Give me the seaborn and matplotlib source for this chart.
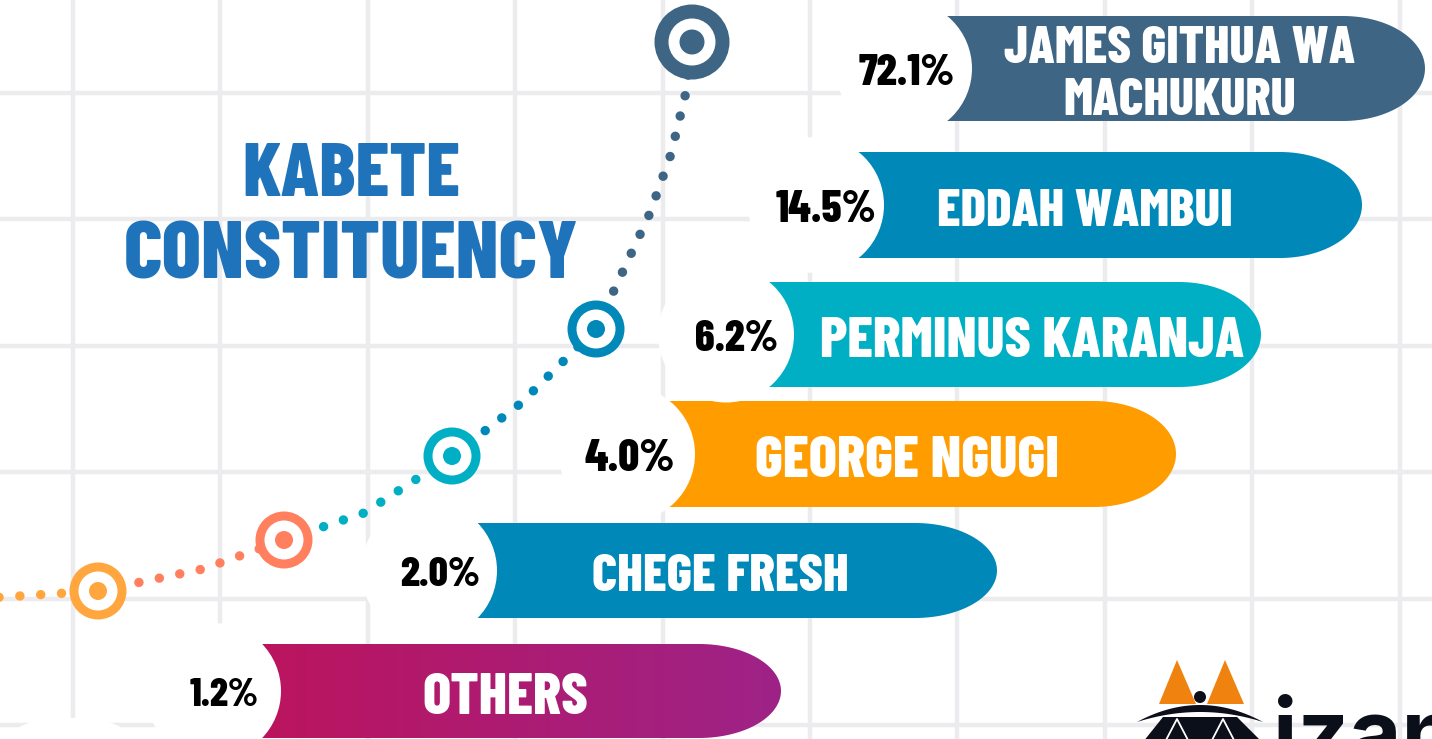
import matplotlib
matplotlib.use("Agg")
import matplotlib.pyplot as plt
import numpy as np
import pandas as pd
import seaborn as sns
from matplotlib import font_manager
from matplotlib.colors import LinearSegmentedColormap
from matplotlib.patches import Circle, Ellipse, Polygon

# --- data ---------------------------------------------------------------
CANDIDATES = ["JAMES GITHUA WA\nMACHUKURU", "EDDAH WAMBUI", "PERMINUS KARANJA",
              "GEORGE NGUGI", "CHEGE FRESH", "OTHERS"]
SHARES = [72.1, 14.5, 6.2, 4.0, 2.0, 1.2]
BAR_COLORS = ["#3E6584", "#0088B8", "#00AFC4", "#FF9C00", "#0088B8", None]
OTHERS_GRADIENT = ["#BC145D", "#9E2387"]
TITLE_LINES = ["KABETE", "CONSTITUENCY"]
MARKER_COLORS = ["#3E6584", "#0088B8", "#00AFC4", "#FF7F5E", "#FFA63F"]
TITLE_COLOR = "#1F73BB"
LOGO_TEXT = "izan"

# --- layout (pixels, y down) ---------------------------------------------
W, H = 1432, 739
GRID_X = [73 + 147.4 * k for k in range(10)]
GRID_Y = [93 + 126.4 * k for k in range(6)]
BAR_TOP = [16, 152, 282, 401, 523, 644]
BAR_BOTTOM = [121, 258, 387, 507, 618, 738]
BAR_BULGE = [972, 884, 794, 695, 497, 281]
BAR_RIGHT = [1425, 1362, 1261, 1176, 997, 781]
LABEL_X = [1180, 1085, 1032, 907, 720, 505]
LABEL_W = [351, 296, 425, 304, 257, 166]
PCT_X = [907, 826, 737, 630, 440, 224]
PCT_W = [96, 100, 83, 90, 80, 69]
CAP_W = 82
HOLE_R = 68

MARKER_X = [692, 596, 452, 284, 98]
MARKER_Y = [42, 329, 456, 540, 591]
MARKER_R = [(37.5, 23.5, 12.5)] + [(28.5, 19.5, 9)] * 4

# dotted connector: (colour index, waypoints)
PATH_SEGMENTS = [
    (4, [(-12, 598), (98, 591)]),
    (3, [(98, 591), (203, 569), (284, 540)]),
    (2, [(284, 540), (364, 513), (452, 456)]),
    (1, [(452, 456), (520, 404), (596, 329)]),
    (0, [(596, 329), (623, 271), (650, 213), (671, 154), (686, 92), (692, 42)]),
]

sns.set_theme(style="white")
available = {f.name for f in font_manager.fontManager.ttflist}
COND = next((f for f in ["Barlow Condensed", "Roboto Condensed", "Liberation Sans Narrow"]
             if f in available), "Roboto")
plt.rcParams["font.family"] = [COND, "DejaVu Sans"]
WEIGHT = 800

fig = plt.figure(figsize=(W / 100, H / 100), dpi=100)
ax = fig.add_axes([0, 0, 1, 1])
renderer = fig.canvas.get_renderer()

# grid
ax.set_xticks(GRID_X)
ax.set_yticks(GRID_Y)
ax.grid(True, color="#ECECEE", lw=3.2)
ax.set_axisbelow(True)
ax.tick_params(length=0, labelbottom=False, labelleft=False)
for sp in ax.spines.values():
    sp.set_visible(False)


def fit_text(x, cy, s, width_px, cap=0.70, **kw):
    t = ax.text(x, cy, s, fontsize=20, ha="center", va="baseline", **kw)
    w = t.get_window_extent(renderer).width
    fs = 20 * width_px / w
    t.set_fontsize(fs)
    t.set_y(cy + cap * fs * 100 / 72 / 2)
    return t


def capsule(left, right, top, bottom):
    cy, hh = (top + bottom) / 2, (bottom - top) / 2
    t = np.linspace(-np.pi / 2, np.pi / 2, 60)
    ex = right - CAP_W + CAP_W * np.cos(t)
    ey = cy + hh * np.sin(t)
    return [(left, bottom), (left, top)] + list(zip(ex, ey))


# bars
for i, name in enumerate(CANDIDATES):
    top, bot = BAR_TOP[i], BAR_BOTTOM[i]
    cy = (top + bot) / 2
    verts = capsule(BAR_BULGE[i] - 40, BAR_RIGHT[i], top, bot)
    if BAR_COLORS[i] is None:
        patch = Polygon(verts, closed=True, fc="none", ec="none", zorder=2)
        ax.add_patch(patch)
        cmap = LinearSegmentedColormap.from_list("others", OTHERS_GRADIENT)
        im = ax.imshow(np.linspace(0, 1, 256).reshape(1, -1), cmap=cmap,
                       extent=[BAR_BULGE[i] - 40, BAR_RIGHT[i], bot, top],
                       aspect="auto", zorder=2)
        im.set_clip_path(patch)
    else:
        ax.add_patch(Polygon(verts, closed=True, fc=BAR_COLORS[i], ec="none", zorder=2))
    ax.add_patch(Circle((BAR_BULGE[i] - HOLE_R, cy), HOLE_R, fc="white", ec="none", zorder=3))

    lines = name.split("\n")
    if len(lines) == 1:
        fit_text(LABEL_X[i], cy + 2, name, LABEL_W[i], color="white",
                 fontweight=WEIGHT, zorder=6)
    else:
        t1 = fit_text(LABEL_X[i], cy - 24, lines[0], LABEL_W[i], color="white",
                      fontweight=WEIGHT, zorder=6)
        ax.text(LABEL_X[i], t1.get_position()[1] + 52, lines[1],
                fontsize=t1.get_fontsize(), ha="center", va="baseline",
                color="white", fontweight=WEIGHT, zorder=6)
    fit_text(PCT_X[i], cy + 1, f"{SHARES[i]:.1f}%", PCT_W[i], color="black",
             fontweight=WEIGHT, zorder=6)

# white bump at bottom-left
ax.add_patch(Ellipse((70, 733), 110, 30, fc="white", ec="none", zorder=3))

# dotted connector
for ci, pts in PATH_SEGMENTS:
    xs, ys = zip(*pts)
    sns.lineplot(x=list(xs), y=list(ys), sort=False, estimator=None, ax=ax,
                 color=MARKER_COLORS[ci], lw=6.8, linestyle=(0, (0.01, 2.2)),
                 dash_capstyle="round", zorder=5, legend=False)

# target markers
mk = pd.DataFrame({"x": MARKER_X, "y": MARKER_Y, "key": CANDIDATES[:5]})
pal = dict(zip(CANDIDATES[:5], MARKER_COLORS))
for layer, white in ((0, False), (1, True), (2, False)):
    sizes = [(2 * r[layer] * 0.72) ** 2 for r in MARKER_R]
    if white:
        sns.scatterplot(data=mk, x="x", y="y", color="white", s=sizes,
                        linewidth=0, ax=ax, zorder=7 + layer, legend=False)
    else:
        sns.scatterplot(data=mk, x="x", y="y", hue="key", palette=pal, s=sizes,
                        linewidth=0, ax=ax, zorder=7 + layer, legend=False)

# title
fit_text(351, 169.5, TITLE_LINES[0], 218, color=TITLE_COLOR, fontweight=WEIGHT, zorder=6)
fit_text(351, 249.5, TITLE_LINES[1], 455, color=TITLE_COLOR, fontweight=WEIGHT, zorder=6)

# logo (bottom right)
ax.add_patch(Polygon([(1159, 704), (1177, 660), (1196, 704)], fc="#F0820F", ec="none", zorder=6))
ax.add_patch(Polygon([(1207, 704), (1225, 660), (1244, 704)], fc="#F0820F", ec="none", zorder=6))
ax.add_patch(Circle((1200, 697), 6, fc="#0B0F1A", ec="none", zorder=7))
u = np.linspace(-1, 1, 50)
arc_top = list(zip(1200 + 63 * u, 705 + 17 * u ** 2))
arc_bot = list(zip(1200 - 63 * u, 712 + 10 * u ** 2))
ax.add_patch(Polygon(arc_top + arc_bot, fc="#0B0F1A", ec="none", zorder=7))
ax.add_patch(Polygon([(1143, 742), (1163, 717), (1237, 717), (1262, 742)],
                     fc="#0B0F1A", ec="none", zorder=7))
for ax_x in (1177, 1223):
    ax.plot([ax_x - 12, ax_x, ax_x + 12], [742, 719, 742], color="white", lw=1.3, zorder=8)
ax.text(1273, 764, LOGO_TEXT, fontsize=65, fontweight="bold", color="#0B0F1A",
        family=["Inter", "DejaVu Sans"], ha="left", va="baseline", zorder=7)

ax.set_xlim(0, W)
ax.set_ylim(H, 0)
fig.savefig("out.png", dpi=100)
